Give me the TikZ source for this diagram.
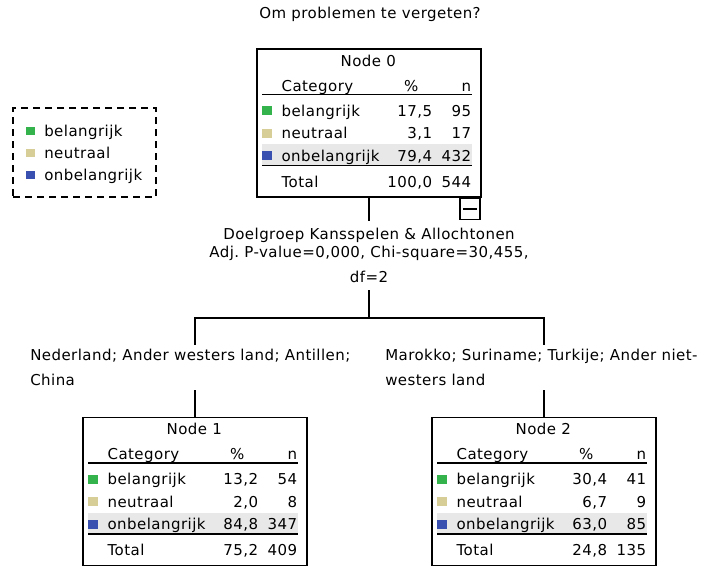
\documentclass[tikz,border=0pt]{standalone}
\usepackage{fontspec}
\setmainfont{DejaVu Sans}
\newfontfamily\tablefont[LetterSpace=3]{DejaVu Sans}
\definecolor{catgreen}{RGB}{52,178,76}
\definecolor{catbeige}{RGB}{214,206,150}
\definecolor{catblue}{RGB}{58,80,176}
\definecolor{rowgray}{RGB}{232,232,232}
\frenchspacing

% counts table inside a tree box: #1 box, #2 title, #3 rows, #4 total %, #5 total n
\newcommand{\cattable}[5]{%
  \begin{scope}[shift={(#1.north west)}]
    \fill[rowgray] (6,96) rectangle (216,117);
    \node[txt, anchor=base] (#1-title) at (112,18) {#2};
    \node[txt, anchor=base west] (#1-hcat) at (25,43) {Category};
    \node[txt, anchor=base] (#1-hpct) at (155,43) {\%};
    \node[txt, anchor=base east] (#1-hn) at (215,43) {n};
    \draw[rule] (6,46) -- (216,46);
    \foreach \cat/\col/\pct/\num [count=\i] in {#3} {
      \pgfmathsetmacro{\rowy}{68+22.5*(\i-1)}
      \fill[\col] (6,\rowy-10) rectangle (16,\rowy-1);
      \node[txt, anchor=base west] (#1-c\i) at (25,\rowy) {\cat};
      \node[txt, anchor=base east] (#1-p\i) at (176,\rowy) {\pct};
      \node[txt, anchor=base east] (#1-n\i) at (215,\rowy) {\num};
    }
    \draw[rule] (6,117) -- (216,117);
    \node[txt, anchor=base west] (#1-total) at (25,139) {Total};
    \node[txt, anchor=base east] (#1-tpct) at (176,139) {#4};
    \node[txt, anchor=base east] (#1-tn) at (215,139) {#5};
  \end{scope}}

\begin{document}
\begin{tikzpicture}[x=0.75pt, y=-0.75pt,
  box/.style={draw, line width=1pt, minimum width=168pt, minimum height=111pt, inner sep=0pt},
  txt/.style={font=\tablefont\fontsize{11.25}{13.5}\selectfont, inner sep=0pt},
  lbl/.style={font=\tablefont\fontsize{11.25}{13.5}\selectfont, fill=white, inner sep=0pt},
  rule/.style={line width=1.1pt},
  edge/.style={line width=1pt}]
  \useasboundingbox (0,0) rectangle (703,567);

  \node[txt, anchor=base] (title) at (370,19) {Om problemen te vergeten?};

  % legend
  \node[draw, dash pattern=on 5.25pt off 3.75pt, line width=0.9pt,
        minimum width=107.25pt, minimum height=66.75pt, inner sep=0pt] (legend) at (84.5,152.5) {};
  \foreach \cat/\col [count=\i] in {belangrijk/catgreen, neutraal/catbeige, onbelangrijk/catblue} {
    \pgfmathsetmacro{\rowy}{136+22*(\i-1)}
    \fill[\col] (26,\rowy-9) rectangle (35,\rowy-1);
    \node[txt, anchor=base west] (key\i) at (44,\rowy) {\cat};
  }

  % tree boxes
  \node[box] (node0) at (369,123) {};
  \node[box] (node1) at (195,491.5) {};
  \node[box] (node2) at (544,491.5) {};
  \node[draw, line width=1pt, minimum width=15pt, minimum height=15.75pt, inner sep=0pt,
        anchor=north east] (fold0) at ([xshift=-0.75pt]node0.south east) {};
  \draw[line width=1pt] ([xshift=3pt]fold0.west) -- ([xshift=-3pt]fold0.east);

  % connectors
  \coordinate (bar) at (369,318);
  \draw[edge] (node0.south) -- (bar);
  \draw[edge] (bar) -| (node1.north);
  \draw[edge] (bar) -| (node2.north);

  % split and branch labels
  \node[lbl, minimum height=51.75pt, align=center] (split0) at (369,255.8)
    {Doelgroep Kansspelen \& Allochtonen\\Adj. P-value=0,000, Chi-square=30,455,\\[5.25pt]df=2};
  \node[lbl, minimum height=33.75pt, align=left, anchor=west] (branch1) at (30,367.8)
    {Nederland; Ander westers land; Antillen;\\[5.25pt]China};
  \node[lbl, minimum height=33.75pt, align=left, anchor=west] (branch2) at (385,367.8)
    {Marokko; Suriname; Turkije; Ander niet-\\[5.25pt]westers land};

  \cattable{node0}{Node 0}{belangrijk/catgreen/17{,}5/95, neutraal/catbeige/3{,}1/17, onbelangrijk/catblue/79{,}4/432}{100,0}{544}
  \cattable{node1}{Node 1}{belangrijk/catgreen/13{,}2/54, neutraal/catbeige/2{,}0/8, onbelangrijk/catblue/84{,}8/347}{75,2}{409}
  \cattable{node2}{Node 2}{belangrijk/catgreen/30{,}4/41, neutraal/catbeige/6{,}7/9, onbelangrijk/catblue/63{,}0/85}{24,8}{135}
\end{tikzpicture}
\end{document}
